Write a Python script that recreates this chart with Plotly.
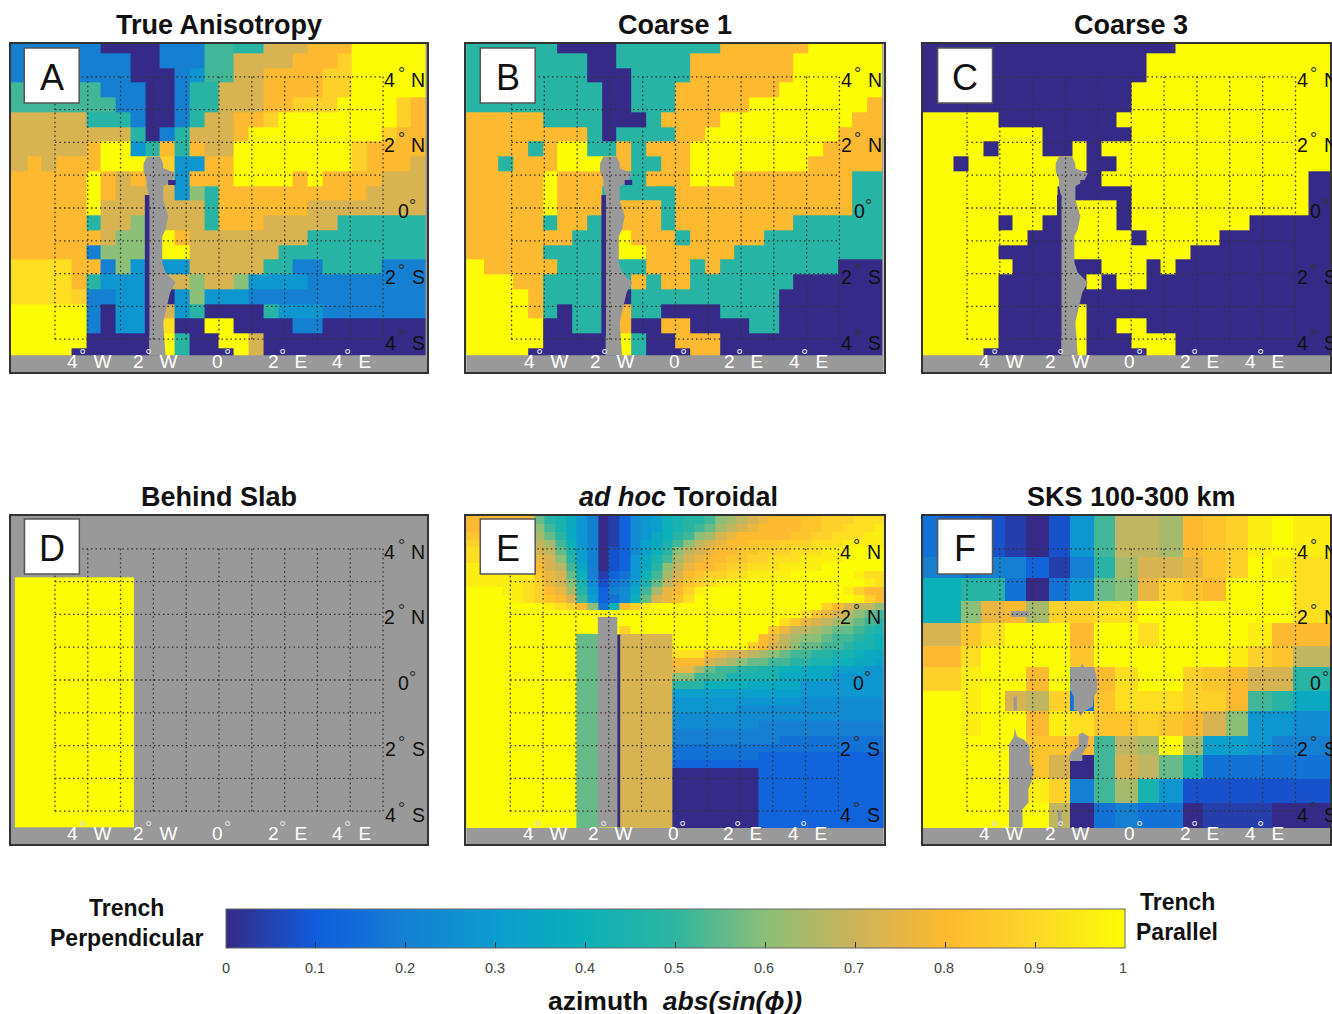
import re
import plotly.graph_objects as go

W, H = 1332, 1014
GRAY = "#999999"

PARULA = [[0.0, "#352a87"], [0.1, "#0f5cdd"], [0.2, "#1580d2"], [0.3, "#0b9cd0"], [0.4, "#0bb0b8"],
          [0.5, "#2fb5a0"], [0.6, "#8cbf78"], [0.7, "#cdb35a"], [0.8, "#fdb92f"], [0.9, "#fdd728"], [1.0, "#fcfc05"]]

# Cell codes: letter a..z stands for azimuth value 0..1 in steps of 0.04; a number repeats the letter
A_ROWS = [
 "f6 a4 f3 n2 m2 s3 u3 z5", "f8 a2 f3 n2 s4 u3 w1 z5", "f8 a3 f1 h1 n2 s2 u4 w2 z5",
 "n6 f3 a2 f1 m2 s3 u4 w2 z5", "n7 f2 a2 f1 m2 s3 u2 w3 z4 w1 u1", "s5 m3 f1 a2 f1 m1 s2 u2 w1 z8 w1 u1",
 "s8 m1 a1 f1 m1 s3 u1 z9 w1 u2", "s5 u1 z2 h1 m1 u1 m1 u1 s2 z8 w1 u4", "s1 u1 s1 u3 z3 z1 w1 h2 u2 z8 w1 u3 s1",
 "u5 z1 u1 s1 u1 s1 s1 h1 u2 u1 z4 u1 z1 u3 u1 s3", "u5 z1 u1 s2 s2 h1 p1 m1 u1 u4 u5 s4", "u5 z1 s3 s1 s3 m1 u5 u1 s8",
 "u5 m1 s2 p1 s1 s3 m1 u3 s5 m6", "u6 s1 p2 s1 z1 u1 s8 m8", "u5 f1 p3 s1 z2 s6 m10",
 "x4 u2 f1 p1 h1 s1 h2 s5 m2 f2 m4 f3", "x4 u1 m1 h3 s1 s1 s1 p1 s2 p1 h4 f8", "x4 w1 f2 h2 h1 a1 h1 p1 h3 f12",
 "z5 f1 a1 h2 h1 s1 h1 m1 a4 m1 h3 f7", "z5 f1 a1 h2 h1 x1 a2 z2 a4 f2 a7", "z5 a4 a1 z1 m1 a2 z2 s1 a11",
 "z4 a5 a1 z1 m1 a2 a1 z1 s1 a11",
]
B_ROWS = [
 "m6 a4 m7 u6 z5", "m8 a2 m5 u7 z6", "m8 a3 m4 u7 z6", "m9 a2 m3 u7 z7", "m9 a2 m3 u5 z8 u1", "u5 m4 a3 m1 u4 z9 u2",
 "u8 m1 a1 m4 u2 z9 u3", "u4 m1 u1 z2 m2 u1 m1 u3 z9 u4", "u2 m1 u3 z3 z1 u1 m2 u2 z8 u5", "u5 z1 u3 u1 m2 u3 z3 u8 m2",
 "u5 z1 u3 m5 u12 m2", "u5 z1 u3 u1 u3 m1 u12 m2", "u5 m1 u2 m1 u1 u3 m1 u8 m6", "u7 m2 u1 z1 u3 m1 u5 m8",
 "u5 m4 u1 z2 u6 m10", "z1 u5 m3 u1 m2 u3 m1 u1 m8 a3", "z3 u2 m4 u1 m1 u1 m1 u2 m7 a6", "z4 u1 m4 u1 a1 m10 a7",
 "z4 u1 m1 a1 m2 u1 u1 m2 a4 m4 a7", "z5 a2 m2 u1 u1 a2 u2 a4 m2 a7", "z5 a4 a1 z1 m1 a2 u3 a11", "z4 a5 a1 z1 m1 a2 a1 u2 a11",
]
C_ROWS = [
 "a17 z11", "a15 z13", "a15 z13", "a14 z14", "a14 z14", "z5 a8 z15", "z8 a6 z14", "z4 a1 z3 a2 z1 a1 z16", "z2 a1 z8 a2 z15",
 "z10 a2 z14 a2", "z9 a5 z12 a2", "z13 a1 z12 a2", "z5 a1 z2 a1 z4 a1 z8 a6", "z7 a2 z5 a1 z5 a8", "z5 a4 z9 a10",
 "z6 a3 z1 a2 z3 a1 z1 a11", "z5 a4 z1 a1 z1 a1 z2 a13", "z5 a4 z1 a18", "z5 a4 z2 a17", "z5 a4 z2 a2 z2 a13",
 "z5 a5 z1 a3 z3 a11", "z4 a6 z1 a4 z2 a11",
]
D_ROWS = ["z"]
E_ROWS = [
 "u6 o m l j h f a b d g h i k l m m n p q r s t u u u v v w w w x x x",
 "u6 p n l j h f a b d g h i k l m n o q r s t u u u u v v w w x x x y",
 "v6 q o m j h f a b d g h j k m n p q s t u u u u u v v w w x x x y y",
 "w6 r q n k h f a b d g i j l n p r s t u u v v v w w w x x x y y y y y",
 "x6 s r o l i f a c d g i k m p r s t u u v v w w w x x x y y y z z z z",
 "x6 t s p m i f a c d h j l n q s t u u v v w w x x x y y y y z z z z z",
 "y6 u s r n j f a c d h j m p r t u u v w w x x x y y y y z z z z z z z",
 "y6 v t s o k f b d e h k n q s u v w w x x y y y y z z z z z z y x x x",
 "y5 x w t s p l g c e f i l o r t v w x y y z12 y x",
 "z3 y2 x w u t q m h d f g j n q t u w y z13 y w u u",
 "z4 y x w v u s n i d e g k o s t v x z z z13 y w u t s",
 "z7 y x w u p e k u w y z16 w u s r r p",
 "z31 x v t s r p o n",
 "z29 x v t s r q p o n m",
 "z14 w z13 v t r r q p o o n m l",
 "z10 o2 z2 s5 z8 u t r q p p o n n m l k",
 "z10 o2 z2 s5 z7 w u s r p o o n n m l l k",
 "z10 o2 z2 s5 x3 u t s s r q p o n n m m l l k j j",
 "z10 o2 z2 s5 u3 s r q p o o n n m m l l k k j j i",
 "z10 o2 z2 s5 t2 q o n n m m l l k k j j j i i i h h",
 "z10 o2 z2 s5 p2 n3 l5 j5 h5",
 "z10 o2 z2 s5 m3 k4 j5 h8",
 "z10 o2 z2 s5 i12 h8",
 "z10 o2 z2 s5 h12 g8",
 "z10 o2 z2 s5 h6 g14",
 "z10 o2 z2 s5 g20",
 "z10 o2 z2 s5 g8 f12",
 "z10 o2 z2 s5 f20",
 "z10 o2 z2 s5 f10 e10",
 "z10 o2 z2 s5 e20",
 "z10 o2 z2 s5 e8 d12",
 "z10 o2 z2 s5 d20",
 "z10 o2 z2 s5 a8 d12",
 "z10 o2 z2 s5 a8 d12",
 "z10 o2 z2 s5 a8 d12",
 "z10 o2 z2 s5 a8 d12",
 "z10 o2 z2 s5 a8 d12",
 "z10 o2 z2 s5 a8 d12",
 "z10 o2 z2 s5 a8 d12",
 "z10 o2 z2 s5 a8 d12",
]
F_ROWS = [
 "e d d c b a c h n r r q u v w y z y y",
 "f f e f f d b f m q s s t v w z y x x",
 "k k m m e a e h o p t w v u z z z x x",
 "k k p t u q w w x x z z z z z z z x x",
 "s s v x z z z u z z x z z z z y u u u",
 "u u x z z z z v z z z z z z y w v r r",
 "w w y z z u z m u x z z w v u s s m m",
 "z z y z s r w e v x x x w w u n m j j",
 "z z y z z u y x v v w v u s p h h g g",
 "z z z z z v v u n r q z q i i h f f f",
 "z z z z z v s a n s r o l e e e e e e",
 "z z z z z y w f n q l h c c c c c c c",
 "z z z z z z r a e f e e a b b b a a a",
]

# Cell edges in degrees (A, B, C carry one extra cell off the left of the frame)
ABC_LON = [round(-6.75 + 0.45 * i, 3) for i in range(30)]
ABC_LAT = [round(5.175 - 0.45 * i, 3) for i in range(22)] + [-4.5]
D_LON = [-6.22, -2.6]
D_LAT = [3.13, -4.5]
E_LON = [-6.4] + [round(-6.23 + 0.325 * i, 3) for i in range(1, 40)]
E_LAT = [round(5.0 - 0.24 * i, 2) for i in range(40)] + [-4.5]
F_LON = [-6.4, -5.87, -5.18, -4.58, -3.84, -3.19, -2.51, -1.85, -1.13, -0.51, 0.2, 0.85, 1.57, 2.19, 2.88, 3.56, 4.28, 4.92, 5.58, 6.4]
F_LAT = [5.0, 3.74, 3.11, 2.40, 1.75, 1.04, 0.40, -0.32, -0.96, -1.70, -2.30, -3.01, -3.74, -4.5]

# Slab outlines in degrees (lon, lat)
SLAB_ABC = [(-2.20, 1.57), (-1.80, 1.57), (-1.70, 1.36), (-1.70, 1.21), (-1.32, 1.06), (-1.44, 0.81), (-1.70, 0.66), (-1.70, 0.25),
            (-1.55, -0.25), (-1.63, -0.66), (-1.73, -0.86), (-1.73, -1.67), (-1.63, -1.97), (-1.32, -2.27), (-1.49, -2.58),
            (-1.63, -3.18), (-1.70, -3.48), (-1.63, -4.5), (-2.13, -4.5), (-2.13, 0.35), (-2.20, 0.66), (-2.20, 0.86),
            (-2.30, 1.11), (-2.30, 1.36)]
DARK_ABC = [[(-2.26, 0.40), (-2.12, 0.40), (-2.12, -3.89), (-2.26, -3.89)],
            [(-1.55, 0.85), (-1.32, 0.85), (-1.32, 0.70), (-1.55, 0.70)]]
SLAB_E = [(-2.33, 1.92), (-1.74, 1.92), (-1.74, -4.5), (-2.33, -4.5)]
DARK_E = [[(-1.74, 1.39), (-1.65, 1.39), (-1.65, -4.5), (-1.74, -4.5)]]
SLABS_F = [
 [(-3.67, 2.10), (-3.11, 2.10), (-3.11, 1.92), (-3.67, 1.92)],
 [(-3.58, -0.50), (-3.48, -0.50), (-3.48, -0.93), (-3.58, -0.93)],
 [(-1.85, 0.40), (-1.55, 0.40), (-1.49, 0.51), (-1.44, 0.40), (-1.13, 0.40), (-1.04, 0.0), (-1.04, -0.35), (-1.14, -0.51), (-1.17, -0.81),
  (-1.44, -0.96), (-1.55, -1.11), (-1.60, -0.96), (-1.75, -0.91), (-1.75, -0.51), (-1.85, -0.30)],
 [(-1.90, -2.47), (-1.85, -2.22), (-1.60, -2.02), (-1.60, -1.67), (-1.49, -1.60), (-1.29, -1.72), (-1.34, -2.02), (-1.49, -2.27), (-1.49, -2.47)],
 [(-3.72, -4.5), (-3.72, -1.97), (-3.57, -1.72), (-3.54, -1.46), (-3.48, -1.72), (-3.26, -1.82), (-3.09, -2.02), (-3.09, -2.53), (-2.96, -2.73),
  (-3.03, -3.08), (-3.13, -3.33), (-3.13, -3.74), (-3.31, -3.94), (-3.31, -4.5)],
 [(-2.23, -4.0), (-2.12, -4.0), (-2.12, -4.5), (-2.23, -4.5)],
]

TITLES = ["<b>True Anisotropy</b>", "<b>Coarse 1</b>", "<b>Coarse 3</b>", "<b>Behind Slab</b>", "<b><i>ad hoc</i> Toroidal</b>", "<b>SKS 100-300 km</b>"]
TITLE_CENTERS = [219, 676, 1133, 219, 680, 1133]
LETTERS = ["A", "B", "C", "D", "E", "F"]
BOX_LEFT = [24.3, 481, 939, 24.5, 481, 939]
TICK_LON = ["4\u00a0\u00a0\u00a0W", "2\u00a0\u00a0\u00a0W", "0", "2\u00a0\u00a0\u00a0E", "4\u00a0\u00a0\u00a0E"]
TICK_LON_POS = [-3.95, -1.95, -0.04, 2.08, 4.05]
RING_LON_POS = [-4.16, -2.16, 0.26, 1.94, 3.93]
TICK_LAT = ["4\u00a0\u00a0\u00a0N", "2\u00a0\u00a0\u00a0N", "0", "2\u00a0\u00a0\u00a0S", "4\u00a0\u00a0\u00a0S"]
TICK_LAT_POS = [3.91, 1.91, -0.09, -2.09, -4.12]
GRID_LON = [-5, -4, -3, -2, -1, 0, 1, 2, 3, 4, 5]
GRID_LAT = [-4, -3, -2, -1, 0, 1, 2, 3, 4]
CBAR_TICKS = [0, 0.1, 0.2, 0.3, 0.4, 0.5, 0.6, 0.7, 0.8, 0.9, 1]

# left, right, top, bottom (px), lon_min, lon_max, rows, lon edges, lat edges, slab polygons, dark polygons
PANELS = [
 (10, 429, 43, 373, -6.34, 6.35, A_ROWS, ABC_LON, ABC_LAT, [SLAB_ABC], DARK_ABC),
 (466, 886, 43, 373, -6.38, 6.35, B_ROWS, ABC_LON, ABC_LAT, [SLAB_ABC], DARK_ABC),
 (923, 1332, 43, 373, -6.35, 6.05, C_ROWS, ABC_LON, ABC_LAT, [SLAB_ABC], DARK_ABC),
 (10, 429, 515, 845, -6.34, 6.35, D_ROWS, D_LON, D_LAT, [], []),
 (466, 886, 515, 845, -6.34, 6.38, E_ROWS, E_LON, E_LAT, [SLAB_E], DARK_E),
 (923, 1332, 515, 845, -6.35, 6.05, F_ROWS, F_LON, F_LAT, SLABS_F, []),
]


def decode(rows, ncols):
    out = []
    for row in rows:
        vals = []
        for ch, n in re.findall(r"([a-z])(\d*)", row):
            vals += [(ord(ch) - 97) / 25] * (int(n) if n else 1)
        vals = (vals + [vals[-1]] * ncols)[:ncols]
        out.append(vals)
    return out


fig = go.Figure()
annotations, shapes = [], []
FONT = "Liberation Sans, Arial, sans-serif"


def polygon(points, color, ax):
    xs = [p[0] for p in points] + [points[0][0]]
    ys = [p[1] for p in points] + [points[0][1]]
    fig.add_trace(go.Scatter(x=xs, y=ys, mode="lines", fill="toself", fillcolor=color, line=dict(width=0, color=color),
                             hoverinfo="skip", showlegend=False, xaxis=ax[0], yaxis=ax[1]))


for i, (l, r, t, b, lon0, lon1, rows, xe, ye, slabs, darks) in enumerate(PANELS):
    n = i + 1
    xa, ya = f"x{n}", f"y{n}"
    if xe is ABC_LON:
        z = [[row[0]] + row for row in decode(rows, 28)]
    else:
        z = decode(rows, len(xe) - 1)
    fig.add_trace(go.Heatmap(x=xe, y=ye[::-1], z=z[::-1], coloraxis="coloraxis", xaxis=xa, yaxis=ya, hoverongaps=False))
    for s in slabs:
        polygon(s, GRAY, (xa, ya))
    for d in darks:
        polygon(d, "#352a87", (xa, ya))
    gx, gy = [], []
    for v in GRID_LON:
        gx += [v, v, None]
        gy += [GRID_LAT[0], GRID_LAT[-1], None]
    for v in GRID_LAT:
        gx += [GRID_LON[0], GRID_LON[-1], None]
        gy += [v, v, None]
    fig.add_trace(go.Scatter(x=gx, y=gy, mode="lines", line=dict(color="#333333", width=1.3, dash="1.5px,3px"),
                             hoverinfo="skip", showlegend=False, xaxis=xa, yaxis=ya))
    axis = dict(showline=True, mirror=True, linecolor="#333333", linewidth=2, ticks="", showticklabels=False, showgrid=False, zeroline=False)
    right_edge = r - 1 if r < W else W
    fig.update_layout(**{
        f"xaxis{n}": dict(axis, domain=[(l + 1) / W, right_edge / W], range=[lon0, lon1], anchor=ya),
        f"yaxis{n}": dict(axis, domain=[1 - (b - 1) / H, 1 - (t + 1) / H], range=[-5, 5], anchor=xa),
    })
    annotations.append(dict(text=TITLES[i], x=TITLE_CENTERS[i] / W, y=1 - (t - 18) / H, xref="paper", yref="paper", showarrow=False,
                            xanchor="center", yanchor="middle", font=dict(size=27, color="#111111", family=FONT)))
    top_gap = 5 if t < 100 else 4
    shapes.append(dict(type="rect", xref="paper", yref="paper", x0=BOX_LEFT[i] / W, x1=(BOX_LEFT[i] + 55) / W,
                       y0=1 - (t + top_gap + 55) / H, y1=1 - (t + top_gap) / H,
                       fillcolor="white", line=dict(color="#555555", width=1.5)))
    annotations.append(dict(text=LETTERS[i], x=(BOX_LEFT[i] + 27.5) / W, y=1 - (t + top_gap + 29) / H, xref="paper", yref="paper", showarrow=False,
                            xanchor="center", yanchor="middle", font=dict(size=36, color="#111111", family=FONT)))
    for txt, pos in zip(TICK_LON, TICK_LON_POS):
        annotations.append(dict(text=txt, x=pos, y=-4.67, xref=xa, yref=ya, showarrow=False, xanchor="center", yanchor="middle",
                                font=dict(size=19, color="white", family=FONT)))
    for pos in RING_LON_POS:
        annotations.append(dict(text="\u00b0", x=pos, y=-4.5, xref=xa, yref=ya, showarrow=False, xanchor="center", yanchor="middle",
                                font=dict(size=18, color="#dddddd", family=FONT)))
    for txt, pos in zip(TICK_LAT, TICK_LAT_POS):
        annotations.append(dict(text=txt, x=5.62 if txt == "0" else 5.66, y=pos, xref=xa, yref=ya, showarrow=False, xanchor="center", yanchor="middle",
                                font=dict(size=19.5, color="#111111", family=FONT)))
        annotations.append(dict(text="\u00b0", x=5.9 if txt == "0" else 5.56, y=pos + (0.15 if txt == "0" else 0.18), xref=xa, yref=ya, showarrow=False,
                                xanchor="center", yanchor="middle", font=dict(size=18, color="#333333", family=FONT)))

for txt, cx, cy, size in [
    ("<b>Trench</b>", 127, 908, 23), ("<b>Perpendicular</b>", 127, 938, 23),
    ("<b>Trench</b>", 1179, 902, 23), ("<b>Parallel</b>", 1179, 932, 23),
    ("<b>azimuth\u00a0\u00a0<i>abs(sin(\u03d5))</i></b>", 676, 1001, 26.5),
]:
    annotations.append(dict(text=txt, x=cx / W, y=1 - cy / H, xref="paper", yref="paper", showarrow=False,
                            xanchor="center", yanchor="middle", font=dict(size=size, color="#111111", family=FONT)))

for v in CBAR_TICKS:
    annotations.append(dict(text=str(v), x=(226 + 899 * v) / W, y=1 - 968 / H, xref="paper", yref="paper", showarrow=False,
                            xanchor="center", yanchor="middle", font=dict(size=14.5, color="#444444", family=FONT)))

fig.update_layout(
    width=W, height=H, autosize=False, margin=dict(l=0, r=0, t=0, b=0),
    paper_bgcolor="white", plot_bgcolor=GRAY, showlegend=False,
    font=dict(family=FONT, color="#222222"),
    annotations=annotations, shapes=shapes,
    coloraxis=dict(cmin=0, cmax=1, colorscale=PARULA, colorbar=dict(
        orientation="h", lenmode="pixels", len=899, thicknessmode="pixels", thickness=39,
        x=(227 + 1126) / 2 / W, xanchor="center", y=1 - 909 / H, yanchor="top", xpad=0, ypad=0,
        outlinecolor="#666666", outlinewidth=1, ticks="inside", ticklen=6, tickcolor="#333333", tickwidth=1,
        tickvals=CBAR_TICKS, showticklabels=False)),
)

fig.write_html("out.html", config={"displayModeBar": False},
               post_script="document.body.style.margin='0';document.documentElement.style.overflow='hidden';")
